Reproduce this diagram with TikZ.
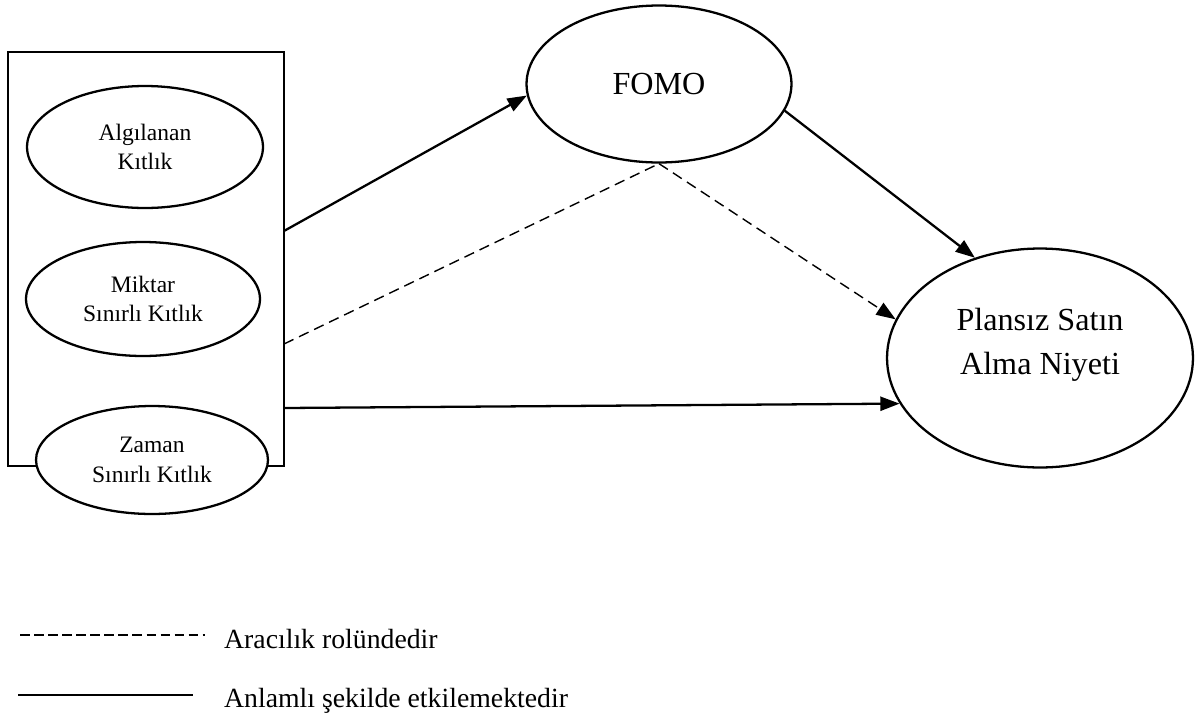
\documentclass[tikz,border=0pt]{standalone}
\usepackage{fontspec}
\setmainfont{Liberation Serif}
\usetikzlibrary{shapes.geometric}
\usetikzlibrary{arrows.meta}
\usetikzlibrary{calc}

\begin{document}
\begin{tikzpicture}[x=0.02cm, y=-0.02cm, line width=1.3pt,
	oval/.style={ellipse,draw,fill=white,align=center,inner sep=0pt},
	small/.style={font=\fontsize{13.4}{17}\selectfont},
	big/.style={font=\fontsize{18.3}{25}\selectfont},
	eff/.style={-{Triangle[length=11pt,width=8pt]}},
	med/.style={line width=0.8pt,dash pattern=on 6pt off 3.5pt}]
\useasboundingbox (0,0) rectangle (1203,717);
%%%  scarcity group and constructs
\node[draw,outer sep=0,minimum width=5.52cm,minimum height=8.28cm] (grp) at (146,259) {};
\node[oval,small,minimum width=4.72cm,minimum height=2.44cm] (alg) at (145,147) {Algılanan\\Kıtlık};
\node[oval,small,minimum width=4.68cm,minimum height=2.28cm] (mik) at (143,299) {Miktar\\Sınırlı Kıtlık};
\node[oval,small,minimum width=4.64cm,minimum height=2.16cm] (zam) at (152,460) {Zaman\\Sınırlı Kıtlık};
\node[oval,big,minimum width=5.3cm,minimum height=3.14cm] (fomo) at (659,84) {FOMO};
\node[oval,minimum width=6.12cm,minimum height=4.38cm] (plan) at (1040,358) {};
\node[big,align=center] (planlbl) at (1040,345) {Plansız Satın\\Alma Niyeti};

%%%%%%%%% draw paths %%%%%%%%
\draw[eff] ($(grp.east)+(0,-28)$) -- (fomo.185);
\draw[eff] (fomo.348) -- (plan.123);
\draw[med] ($(grp.east)+(0,85)$) -- (fomo.south);
\draw[med,eff] (fomo.south) -- (plan.165);
\draw[eff] ($(grp.east)+(0,149)$) -- (plan.198);

%%%%%%%%% legend %%%%%%%%
\coordinate (d1) at (20,635);
\coordinate (d2) at (205,635);
\draw[line width=0.8pt,dash pattern=on 5.5pt off 2.5pt] (d1) -- (d2);
\node[anchor=base west,inner sep=0,font=\fontsize{15.8}{18}\selectfont] (lmed) at (223,648) {Aracılık rolündedir};
\coordinate (s1) at (18,695);
\coordinate (s2) at (193,695);
\draw[line width=0.9pt] (s1) -- (s2);
\node[anchor=base west,inner sep=0,font=\fontsize{15.8}{18}\selectfont] (leff) at (223,707) {Anlamlı şekilde etkilemektedir};
\end{tikzpicture}
\end{document}
